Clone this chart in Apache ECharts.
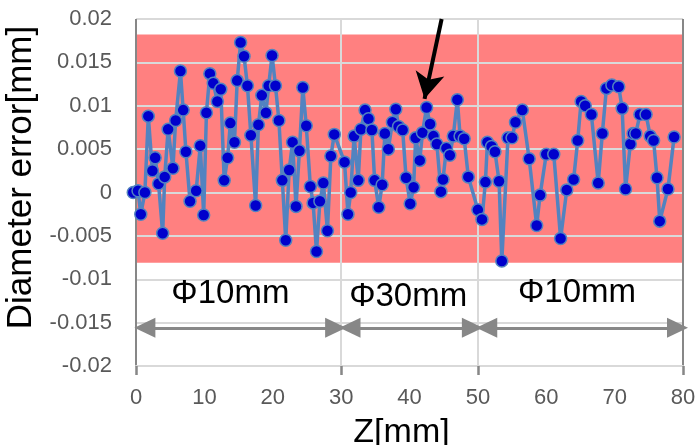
<!DOCTYPE html>
<html lang="en">
<head>
<meta charset="UTF-8">
<title>Diameter error along Z</title>
<script src="https://cdn.jsdelivr.net/npm/echarts@6.0.0/dist/echarts.min.js"></script>
<style>
  html, body { margin: 0; padding: 0; background: #fff; }
  #chart { width: 698px; height: 445px; }
</style>
</head>
<body>
<div id="chart"></div>
<script>
// Z positions [mm] and diameter error [mm], per section
var zPhi10a = [-0.4, 0.3, 0.7, 1.3, 1.8, 2.4, 2.8, 3.3, 3.9, 4.2, 4.7, 5.4, 5.8, 6.5, 6.9, 7.3, 7.9, 8.8, 9.4, 9.9,
  10.3, 10.8, 11.3, 11.9, 12.4, 12.9, 13.4, 13.8, 14.4, 14.8, 15.3, 15.8, 16.3, 16.8, 17.5, 17.9, 18.4, 19.0, 19.4, 19.9,
  20.4, 20.9, 21.4, 21.9, 22.4, 22.9, 23.4, 23.9, 24.4, 24.9, 25.5, 25.9, 26.4, 26.9, 27.4, 28.0, 28.5, 29.0];
var errPhi10a = [0.0000, 0.0002, -0.0025, 0.0000, 0.0088, 0.0025, 0.0040, 0.0010, -0.0047, 0.0018, 0.0073, 0.0028, 0.0083, 0.0140, 0.0095, 0.0047, -0.0010, 0.0002, 0.0054, -0.0026,
  0.0092, 0.0137, 0.0126, 0.0105, 0.0119, 0.0014, 0.0040, 0.0080, 0.0058, 0.0129, 0.0173, 0.0157, 0.0123, 0.0066, -0.0015, 0.0078, 0.0112, 0.0092, 0.0123, 0.0158,
  0.0123, 0.0083, 0.0014, -0.0055, 0.0026, 0.0058, -0.0016, 0.0048, 0.0121, 0.0077, 0.0007, -0.0012, -0.0068, -0.0010, 0.0011, -0.0044, 0.0042, 0.0067];

var zPhi30 = [30.5, 31.0, 31.4, 31.9, 32.5, 32.9, 33.5, 34.0, 34.5, 34.9, 35.5, 36.0, 36.4, 36.9, 37.5, 38.0, 38.4, 39.0, 39.5, 40.1,
  40.6, 40.9, 41.5, 41.9, 42.5, 43.0, 43.5, 44.0, 44.6, 44.9, 45.4, 45.9, 46.4, 47.0, 47.4, 48.0, 48.6];
var errPhi30 = [0.0035, -0.0025, 0.0000, 0.0065, 0.0014, 0.0073, 0.0095, 0.0085, 0.0072, 0.0014, -0.0017, 0.0009, 0.0068, 0.0050, 0.0081, 0.0096, 0.0076, 0.0072, 0.0017, -0.0013,
  0.0006, 0.0063, 0.0037, 0.0069, 0.0098, 0.0079, 0.0065, 0.0056, 0.0001, 0.0015, 0.0051, 0.0043, 0.0065, 0.0107, 0.0065, 0.0062, 0.0018];

var zPhi10b = [50.0, 50.6, 51.1, 51.4, 52.0, 52.5, 53.1, 53.5, 54.4, 55.0, 55.5, 56.5, 57.5, 58.6, 59.1, 60.0, 61.1, 62.1, 63.0, 64.0,
  64.6, 65.1, 65.7, 66.6, 67.6, 68.2, 68.8, 69.6, 70.6, 71.1, 71.6, 72.3, 72.7, 73.1, 73.7, 74.6, 75.2, 75.7, 76.2, 76.6, 77.8, 78.7];
var errPhi10b = [-0.0020, -0.0031, 0.0012, 0.0058, 0.0053, 0.0047, 0.0013, -0.0079, 0.0063, 0.0063, 0.0081, 0.0095, 0.0039, -0.0038, -0.0003, 0.0044, 0.0044, -0.0053, 0.0003, 0.0015,
  0.0060, 0.0105, 0.0100, 0.0090, 0.0011, 0.0068, 0.0120, 0.0124, 0.0122, 0.0097, 0.0004, 0.0056, 0.0068, 0.0068, 0.0090, 0.0090, 0.0065, 0.0060, 0.0017, -0.0033, 0.0004, 0.0064];

// section names and their Z ranges
var sectionNames = ['Φ10mm', 'Φ30mm', 'Φ10mm'];
var sectionStart = [0, 30, 50];
var sectionEnd = [30, 50, 80];
// tolerance band [mm]
var bandLow = -0.0081;
var bandHigh = 0.0182;

var FONT = '"Liberation Sans", Arial, sans-serif';

var points = [];
function addSection(zs, errs) {
  for (var i = 0; i < zs.length; i++) points.push([zs[i], errs[i]]);
}
addSection(zPhi10a, errPhi10a);
addSection(zPhi30, errPhi30);
addSection(zPhi10b, errPhi10b);

// section labels + double arrows (ends pulled in a little so the
// triangle tips meet the section lines)
var labelPos = [[13.8, -0.0117], [39.8, -0.0120], [64.5, -0.0116]];
var labelData = [];
var spanLines = [];
for (var s = 0; s < sectionNames.length; s++) {
  labelData.push({ value: labelPos[s], name: sectionNames[s] });
  spanLines.push([
    { coord: [sectionStart[s] + 1.3, -0.0156] },
    { coord: [sectionEnd[s] - 0.8, -0.0156] }
  ]);
}

var chart = echarts.init(document.getElementById('chart'));
var option = {
  animation: false,
  grid: { left: 136, right: 15, top: 19, bottom: 79, containLabel: false, outerBoundsMode: 'none' },
  xAxis: {
    type: 'value', min: 0, max: 80, interval: 10, z: 2,
    name: 'Z[mm]', nameLocation: 'middle', nameGap: 50,
    nameTextStyle: { fontSize: 34, color: '#000', fontFamily: FONT, padding: [0, 16, 0, 0] },
    axisLine: { show: true, onZero: false, lineStyle: { color: '#d9d9d9', width: 2 } },
    axisTick: { show: true, customValues: [0, 30, 50, 80], length: 9, lineStyle: { color: '#878787', width: 2.5 } },
    axisLabel: { fontSize: 22, color: '#595959', margin: 21, fontFamily: FONT },
    splitLine: {
      show: true,
      lineStyle: {
        color: ['#878787', '#d9d9d9', '#d9d9d9', '#878787', '#d9d9d9', '#878787', '#d9d9d9', '#d9d9d9', '#878787'],
        width: 2
      }
    }
  },
  yAxis: {
    type: 'value', min: -0.02, max: 0.02, interval: 0.005, z: 2,
    name: 'Diameter error[mm]', nameLocation: 'middle', nameGap: 88,
    nameTextStyle: { fontSize: 35, color: '#000', fontFamily: FONT, padding: [0, 0, 0, 30] },
    axisLine: { show: false },
    axisTick: { show: false },
    axisLabel: {
      fontSize: 22, color: '#595959', margin: 24, fontFamily: FONT,
      formatter: function (v) { return String(+v.toFixed(3)); }
    },
    splitLine: { show: true, lineStyle: { color: '#d9d9d9', width: 2 } }
  },
  series: [
    {
      // tolerance band, kept under the grid lines
      type: 'line',
      data: [],
      z: 0,
      markArea: {
        silent: true,
        z: 0,
        itemStyle: { color: '#ff8080' },
        data: [[{ coord: [-0.45, bandHigh] }, { coord: [80, bandLow] }]]
      }
    },
    {
      type: 'line',
      data: points,
      clip: false,
      z: 3,
      symbol: 'circle',
      symbolSize: 12,
      lineStyle: { color: '#5283c0', width: 3.5 },
      itemStyle: { color: '#0000cc', borderColor: '#5283c0', borderWidth: 1.5, opacity: 1 },
      markLine: {
        silent: true,
        symbol: ['none', 'arrow'],
        symbolSize: [22, 26],
        label: { show: false },
        lineStyle: { color: '#000', width: 4, type: 'solid' },
        data: [[{ coord: [44.7, 0.02] }, { coord: [42.2, 0.0108] }]]
      }
    },
    {
      type: 'scatter',
      data: labelData,
      symbolSize: 0,
      clip: false,
      z: 4,
      itemStyle: { opacity: 1 },
      label: {
        show: true, position: 'inside', formatter: '{b}', opacity: 1,
        fontSize: 33, color: '#000', textBorderWidth: 0, fontFamily: FONT
      },
      markLine: {
        silent: true,
        symbol: ['triangle', 'triangle'],
        symbolSize: [20, 21],
        label: { show: false },
        lineStyle: { color: '#878787', width: 3, type: 'solid', opacity: 1 },
        itemStyle: { color: '#878787', opacity: 1 },
        data: spanLines
      }
    }
  ]
};
chart.setOption(option);
</script>
</body>
</html>
